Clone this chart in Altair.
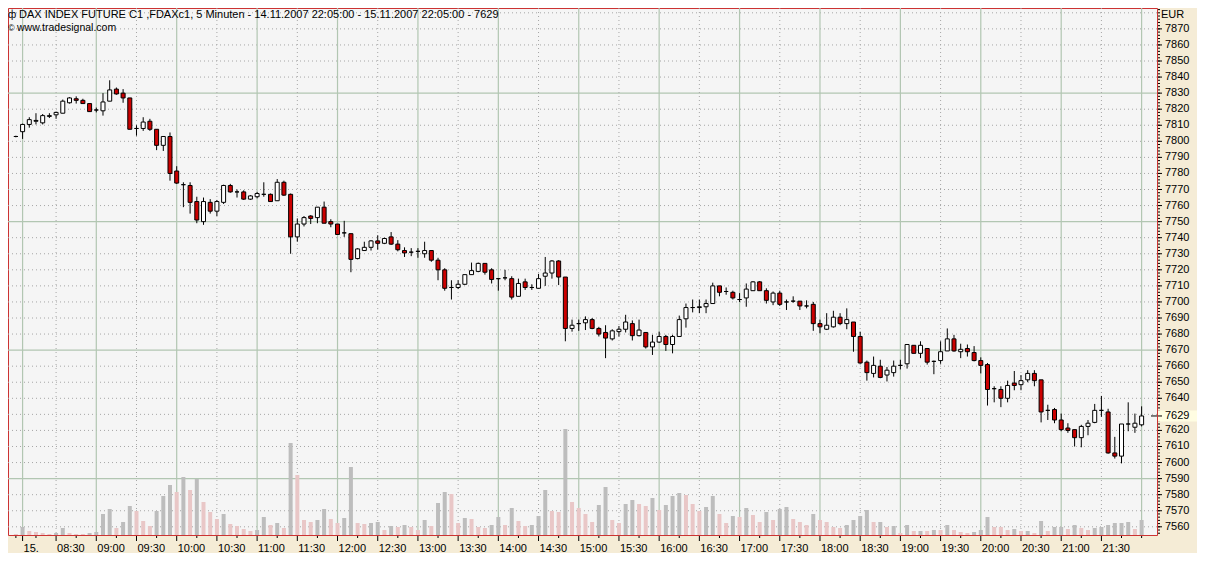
import altair as alt
import pandas as pd

# ---- candle data (5-minute bars, index 0 = last bar of 14.11, 1..168 = 15.11 08:05..22:00)
opens = [
    7803, 7806, 7810.5, 7812.5, 7811.5, 7815.5, 7816.5, 7817.5, 7824, 7826.5,
    7825.5, 7823.5, 7819.5, 7819, 7825, 7832.5, 7830, 7827, 7808, 7808,
    7812.5, 7807.5, 7797.5, 7803, 7781.5, 7773, 7772.5, 7762.5, 7750, 7762,
    7756.5, 7762, 7772.5, 7768.5, 7768.5, 7764, 7765.5, 7767, 7767, 7763,
    7774.5, 7767, 7740.5, 7748.5, 7753.5, 7752.5, 7759, 7750, 7748.5, 7743,
    7742.5, 7727, 7732, 7734, 7738, 7736.5, 7740.5, 7736, 7732, 7731,
    7731.5, 7730, 7732, 7726, 7720, 7709, 7709, 7711, 7717, 7719,
    7724, 7720, 7714.5, 7715, 7714.5, 7703.5, 7712.5, 7709, 7708.5, 7716,
    7718, 7725.5, 7715.5, 7683.5, 7686.5, 7687, 7689, 7683.5, 7681, 7677,
    7681.5, 7683, 7686.5, 7679, 7681, 7672, 7675, 7678.5, 7673.5, 7678.5,
    7689.5, 7696.5, 7696.5, 7697, 7699, 7710, 7706.5, 7706, 7701.5, 7702.5,
    7707, 7712.5, 7707, 7700, 7705.5, 7700, 7700.5, 7700.5, 7697.5, 7698.5,
    7686.5, 7683, 7684.5, 7690.5, 7686.5, 7687.5, 7678.5, 7662.5, 7655.5, 7660,
    7654.5, 7656, 7660.5, 7661.5, 7673, 7668, 7671, 7663, 7663.5, 7669.5,
    7677, 7669, 7671, 7668.5, 7663.5, 7661, 7646, 7645.5, 7640, 7649.5,
    7648.5, 7651.5, 7655.5, 7651.5, 7632.5, 7633, 7626.5, 7621.5, 7620.5, 7615.5,
    7622.5, 7625, 7632.5, 7631.5, 7606, 7604, 7624, 7622, 7623.5,
]
highs = [
    7803.5, 7811, 7815, 7817.5, 7817, 7817.5, 7818.5, 7826, 7827.5, 7828,
    7826.5, 7823.5, 7821, 7830, 7838, 7833.5, 7832.5, 7827, 7810, 7815,
    7814, 7807.5, 7803, 7805.5, 7784.5, 7774.5, 7774.5, 7765.5, 7765, 7764,
    7763.5, 7773, 7773.5, 7770, 7769.5, 7766.5, 7768.5, 7774.5, 7767.5, 7776.5,
    7775.5, 7767.5, 7752, 7753.5, 7754, 7759, 7762.5, 7751.5, 7748.5, 7750.5,
    7742.5, 7733.5, 7737.5, 7738.5, 7741.5, 7740, 7743.5, 7738.5, 7734, 7733.5,
    7733.5, 7737.5, 7732, 7727.5, 7721, 7713.5, 7713.5, 7717, 7724.5, 7724.5,
    7724, 7721, 7714.5, 7720, 7716, 7714.5, 7714.5, 7711, 7717.5, 7728,
    7726, 7726, 7715.5, 7689, 7689, 7691, 7690, 7684.5, 7685.5, 7683,
    7685, 7692, 7688.5, 7689, 7681, 7679.5, 7681.5, 7679.5, 7679.5, 7691.5,
    7699, 7701.5, 7701.5, 7701.5, 7712, 7710, 7709, 7707, 7705.5, 7711.5,
    7713, 7713, 7708.5, 7706.5, 7707, 7701.5, 7703.5, 7700.5, 7701, 7700,
    7689, 7693, 7694.5, 7693, 7696, 7687.5, 7681.5, 7663.5, 7666, 7664,
    7659.5, 7663.5, 7664, 7673.5, 7673, 7675.5, 7671, 7663.5, 7675.5, 7683.5,
    7679.5, 7674, 7673.5, 7672.5, 7665.5, 7662, 7647.5, 7647.5, 7651, 7657,
    7654.5, 7657.5, 7657.5, 7651.5, 7636, 7634, 7630.5, 7624.5, 7620.5, 7623.5,
    7626.5, 7636.5, 7641.5, 7633.5, 7616, 7624, 7637.5, 7630.5, 7635,
]
lows = [
    7802.5, 7801.5, 7808.5, 7810.5, 7810.5, 7814.5, 7814, 7817.5, 7823.5, 7823.5,
    7823.5, 7818.5, 7818, 7816, 7825, 7829, 7824, 7807.5, 7803.5, 7806.5,
    7806.5, 7794.5, 7794, 7775.5, 7773.5, 7759, 7755, 7749, 7748, 7755,
    7753.5, 7761, 7768, 7765, 7763.5, 7763.5, 7764.5, 7765.5, 7762.5, 7763,
    7766, 7730, 7737.5, 7747, 7748.5, 7749, 7749, 7746.5, 7742, 7740.5,
    7718.5, 7726.5, 7732, 7732, 7732.5, 7736, 7735.5, 7731.5, 7728, 7728.5,
    7727.5, 7727.5, 7725, 7713.5, 7707, 7701.5, 7708, 7710.5, 7717, 7718.5,
    7717, 7711.5, 7707, 7713.5, 7701.5, 7703.5, 7707.5, 7707.5, 7708.5, 7710,
    7714.5, 7710.5, 7675.5, 7681.5, 7682, 7682.5, 7683, 7678.5, 7665, 7676,
    7678.5, 7681, 7676, 7678.5, 7671, 7667, 7674.5, 7669.5, 7668, 7678.5,
    7684, 7693.5, 7693, 7693, 7699, 7703.5, 7704.5, 7701.5, 7700, 7697,
    7707, 7707, 7699, 7698, 7697.5, 7695, 7699.5, 7695, 7696, 7682,
    7680.5, 7682.5, 7684, 7685.5, 7683, 7669, 7661.5, 7651, 7653, 7652.5,
    7650.5, 7653.5, 7658, 7658.5, 7668, 7665, 7661, 7655, 7661.5, 7669.5,
    7669, 7665, 7666, 7663, 7655.5, 7635.5, 7637.5, 7634.5, 7637.5, 7645,
    7645, 7650, 7647.5, 7625, 7626.5, 7624.5, 7619.5, 7618.5, 7610, 7609.5,
    7617, 7624.5, 7628.5, 7605.5, 7602.5, 7599.5, 7619.5, 7618.5, 7622.5,
]
closes = [
    7803, 7810.5, 7813.5, 7813, 7816, 7816, 7818, 7825, 7827, 7825.5,
    7823.5, 7818.5, 7819.5, 7824.5, 7832, 7829.5, 7827, 7807.5, 7808, 7812,
    7807.5, 7797.5, 7803, 7780, 7774, 7773, 7762, 7751, 7762.5, 7756.5,
    7762.5, 7772.5, 7768.5, 7768.5, 7764, 7766, 7767.5, 7767, 7762.5, 7774.5,
    7766.5, 7740.5, 7748.5, 7752.5, 7752, 7759, 7749, 7748.5, 7742, 7743,
    7726.5, 7733, 7734, 7738, 7736.5, 7739.5, 7736, 7732.5, 7730.5, 7731,
    7731.5, 7732, 7726, 7720, 7708.5, 7709, 7711, 7717, 7719.5, 7724,
    7718.5, 7714, 7714.5, 7715, 7703, 7711.5, 7709, 7709, 7714.5, 7718,
    7725.5, 7715.5, 7683.5, 7685.5, 7686.5, 7689, 7683.5, 7680, 7677.5, 7682,
    7683, 7687.5, 7679, 7682.5, 7672, 7675, 7678.5, 7673.5, 7678.5, 7689,
    7696.5, 7696.5, 7697, 7699, 7710, 7706, 7706.5, 7702.5, 7701.5, 7708,
    7712.5, 7707, 7701, 7705.5, 7698.5, 7700, 7700.5, 7697.5, 7697.5, 7686.5,
    7684.5, 7685.5, 7690.5, 7686.5, 7689, 7678.5, 7662, 7656, 7660.5, 7653,
    7657.5, 7660, 7660.5, 7673.5, 7668, 7673, 7662.5, 7663, 7669, 7677,
    7669.5, 7670.5, 7669, 7663.5, 7660.5, 7645.5, 7646, 7640, 7648, 7648,
    7651, 7655.5, 7651, 7631.5, 7632.5, 7626.5, 7620.5, 7620, 7615.5, 7622.5,
    7624.5, 7632.5, 7632.5, 7606, 7604, 7624, 7624, 7624.5, 7629,
]
# volume (hundreds of contracts) and its colour class: g = grey, p = pink
volumes = [
    1, 8, 4, 3, 2, 1, 2, 7, 2, 1,
    1, 2, 3, 21, 26, 7, 13, 29, 24, 14,
    9, 24, 39, 50, 43, 58, 45, 56, 33, 23,
    16, 21, 11, 9, 6, 4, 5, 18, 10, 12,
    7, 92, 60, 15, 13, 15, 26, 16, 12, 17,
    68, 12, 11, 12, 13, 5, 9, 8, 10, 8,
    5, 15, 9, 32, 43, 41, 12, 17, 16, 8,
    7, 10, 18, 10, 27, 14, 9, 10, 19, 45,
    24, 23, 106, 33, 27, 21, 13, 30, 48, 15,
    12, 31, 35, 31, 29, 37, 25, 30, 39, 42,
    40, 31, 24, 28, 39, 21, 12, 19, 18, 27,
    20, 13, 23, 15, 26, 28, 16, 13, 10, 21,
    15, 13, 8, 7, 10, 15, 19, 25, 13, 13,
    8, 9, 2, 10, 4, 4, 4, 5, 5, 10,
    5, 3, 2, 3, 5, 18, 8, 8, 5, 6,
    4, 4, 2, 14, 4, 8, 8, 6, 10, 7,
    5, 7, 8, 10, 12, 12, 13, 6, 15,
]
vol_colors = list(
    "pgppppggpp" "pggggpggpp" "pgggpgpgpp" "pgppppggpg" "pgpppggppg"
    "gppggpgpgp" "pgpggppgpp" "pggpgppggg" "ppgppppggp" "pggppgpggg"
    "pppggppgpg" "ppgpggpppg" "ppppggggpg" "pgpgpgpgpg" "pppgggpppg"
    "pgpgpggpgp" "pggggggpg"
)

# time axis
tick_idx = [1, 6, 12, 18, 24, 30, 36, 42, 48, 54, 60, 66, 72, 78, 84, 90, 96,
            102, 108, 114, 120, 126, 132, 138, 144, 150, 156, 162]
tick_labels = ["15.", "08:30", "09:00", "09:30", "10:00", "10:30", "11:00", "11:30",
               "12:00", "12:30", "13:00", "13:30", "14:00", "14:30", "15:00", "15:30",
               "16:00", "16:30", "17:00", "17:30", "18:00", "18:30", "19:00", "19:30",
               "20:00", "20:30", "21:00", "21:30"]
hour_idx = [1, 12, 24, 36, 48, 60, 72, 84, 96, 108, 120, 132, 144, 156, 168]
halfhour_idx = [6, 18, 30, 42, 54, 66, 78, 90, 102, 114, 126, 138, 150, 162]
quarter_idx = [0, 3, 9, 15, 21, 27, 33, 39, 45, 51, 57, 63, 69, 75, 81, 87, 93, 99,
               105, 111, 117, 123, 129, 135, 141, 147, 153, 159, 165, 168]

# price axis
price_labels = [7560, 7570, 7580, 7590, 7600, 7610, 7620, 7640, 7650, 7660, 7670,
                7680, 7690, 7700, 7710, 7720, 7730, 7740, 7750, 7760, 7770, 7780,
                7790, 7800, 7810, 7820, 7830, 7840, 7850, 7860, 7870]
dotted_prices = [7560, 7570, 7580, 7600, 7610, 7620, 7630, 7640, 7650, 7660, 7680,
                 7690, 7700, 7710, 7720, 7730, 7740, 7760, 7770, 7780, 7790, 7800,
                 7810, 7820, 7840, 7850, 7860, 7870, 7880]
solid_prices = [7590, 7670, 7750, 7830]
minor_prices = list(range(7556, 7884, 2))
last_price = [7629]

title_text = "DAX INDEX FUTURE C1 ,FDAXc1, 5 Minuten - 14.11.2007 22:05:00 - 15.11.2007 22:05:00 - 7629"

W, H = 1149, 527
FONT = "Liberation Sans"

df = pd.DataFrame({
    "i": list(range(len(opens))), "open": opens, "high": highs, "low": lows,
    "close": closes, "vol": volumes, "vcol": vol_colors,
})

xs = alt.Scale(domain=[-0.43, 169.55], nice=False, zero=False)
ys = alt.Scale(domain=[7554.9, 7883], nice=False, zero=False)
vs = alt.Scale(domain=[0, H], nice=False)

# ---------------- grid
g_dot_h = alt.Chart(pd.DataFrame({"p": dotted_prices})).mark_rule(
    color="#a6a6a6", strokeDash=[1, 3], strokeWidth=1).encode(
    y=alt.Y("p:Q", scale=ys, axis=None), x=alt.value(0), x2=alt.value(W))
g_sol_h = alt.Chart(pd.DataFrame({"p": solid_prices})).mark_rule(
    color="#b2c6b2", strokeWidth=1.2).encode(
    y=alt.Y("p:Q", scale=ys, axis=None), x=alt.value(0), x2=alt.value(W))
g_dot_v = alt.Chart(pd.DataFrame({"t": halfhour_idx})).mark_rule(
    color="#a6a6a6", strokeDash=[1, 3], strokeWidth=1).encode(
    x=alt.X("t:Q", scale=xs, axis=None), y=alt.value(0), y2=alt.value(H))
g_sol_v = alt.Chart(pd.DataFrame({"t": hour_idx})).mark_rule(
    color="#b2c6b2", strokeWidth=1.2).encode(
    x=alt.X("t:Q", scale=xs, axis=None), y=alt.value(0), y2=alt.value(H))
grid = alt.layer(g_dot_h, g_sol_h, g_dot_v, g_sol_v)

# ---------------- volume
vol = alt.Chart(df).mark_bar(size=4).encode(
    x=alt.X("i:Q", scale=xs, axis=None),
    y=alt.Y("vol:Q", scale=vs, axis=None),
    color=alt.Color("vcol:N", scale=alt.Scale(domain=["g", "p"], range=["#bdbdbd", "#e9c7c7"]), legend=None),
)

# ---------------- candles
wicks = alt.Chart(df).mark_rule(color="black", strokeWidth=1).encode(
    x=alt.X("i:Q", scale=xs, axis=None),
    y=alt.Y("low:Q", scale=ys, axis=None),
    y2="high:Q",
)
bodies = alt.Chart(df).mark_bar(size=4, stroke="black", strokeWidth=1).encode(
    x=alt.X("i:Q", scale=xs, axis=None),
    y=alt.Y("open:Q", scale=ys, axis=None),
    y2="close:Q",
    fill=alt.condition("datum.close < datum.open", alt.value("#cc0000"), alt.value("#ffffff")),
)

# ---------------- axes drawn as marks
minor_y = alt.Chart(pd.DataFrame({"p": minor_prices})).mark_rule(color="black").encode(
    y=alt.Y("p:Q", scale=ys, axis=None), x=alt.value(W + 1), x2=alt.value(W + 3))
major_y = alt.Chart(pd.DataFrame({"p": price_labels})).mark_rule(color="black").encode(
    y=alt.Y("p:Q", scale=ys, axis=None), x=alt.value(W + 1), x2=alt.value(W + 5))
price_text = alt.Chart(pd.DataFrame({"p": price_labels})).mark_text(
    align="left", baseline="middle", font=FONT, fontSize=11, color="black").encode(
    y=alt.Y("p:Q", scale=ys, axis=None), x=alt.value(W + 8), text=alt.Text("p:Q", format="d"))

minor_x = alt.Chart(pd.DataFrame({"q": quarter_idx})).mark_rule(color="black").encode(
    x=alt.X("q:Q", scale=xs, axis=None), y=alt.value(H + 1), y2=alt.value(H + 3))
major_x = alt.Chart(pd.DataFrame({"t": tick_idx})).mark_rule(color="black").encode(
    x=alt.X("t:Q", scale=xs, axis=None), y=alt.value(H + 1), y2=alt.value(H + 6))
time_text = alt.Chart(pd.DataFrame({"t": tick_idx, "lab": tick_labels})).mark_text(
    align="left", baseline="alphabetic", font=FONT, fontSize=11, color="black", dx=1).encode(
    x=alt.X("t:Q", scale=xs, axis=None), y=alt.value(H + 17), text="lab:N")

lp = pd.DataFrame({"p": last_price, "top": [last_price[0] + 3.4], "bot": [last_price[0] - 3.4]})
lp_dash = alt.Chart(lp).mark_rule(color="black").encode(
    y=alt.Y("p:Q", scale=ys, axis=None), x=alt.value(W - 6), x2=alt.value(W))
lp_box = alt.Chart(lp).mark_rect(color="#fffde2").encode(
    y=alt.Y("top:Q", scale=ys, axis=None), y2="bot:Q", x=alt.value(W + 1), x2=alt.value(W + 40))
lp_tick = alt.Chart(lp).mark_rule(color="black").encode(
    y=alt.Y("p:Q", scale=ys, axis=None), x=alt.value(W + 1), x2=alt.value(W + 5))
lp_text = alt.Chart(lp).mark_text(align="left", baseline="middle", font=FONT, fontSize=11,
                                   color="black").encode(
    y=alt.Y("p:Q", scale=ys, axis=None), x=alt.value(W + 8), text=alt.Text("p:Q", format="d"))

texts = pd.DataFrame({"t": [title_text]})
t_icon = alt.Chart(texts).mark_text(text="ф", align="left", baseline="alphabetic", font=FONT,
                                    fontSize=10, color="black").encode(x=alt.value(0), y=alt.value(9.5))
t_title = alt.Chart(texts).mark_text(align="left", baseline="alphabetic", font=FONT,
                                     fontSize=11, color="black").encode(
    x=alt.value(11), y=alt.value(9.5), text="t:N")
t_copy = alt.Chart(texts).mark_text(text="©", align="left", baseline="alphabetic", font=FONT,
                                    fontSize=9, color="black").encode(x=alt.value(0), y=alt.value(23))
t_www = alt.Chart(texts).mark_text(text="www.tradesignal.com", align="left", baseline="alphabetic",
                                   font=FONT, fontSize=10.5, color="black").encode(
    x=alt.value(9), y=alt.value(23))
t_eur = alt.Chart(texts).mark_text(text="EUR", align="left", baseline="alphabetic", font=FONT,
                                   fontSize=11, color="black").encode(x=alt.value(W + 4), y=alt.value(10))

candles = alt.layer(wicks, bodies, minor_y, major_y, price_text, minor_x, major_x, time_text,
                    lp_dash, lp_box, lp_tick, lp_text, t_icon, t_title, t_copy, t_www, t_eur)

chart = alt.layer(grid, vol, candles).resolve_scale(y="independent").properties(
    width=W, height=H,
    background="#f5ecd6",
    padding={"left": 0, "top": 0, "right": 40, "bottom": 18},
    autosize=alt.AutoSizeParams(type="none"),
).configure_view(stroke="#cc3333", strokeWidth=1, fill="#f5f5f5")

chart.save("out.html", embed_options={"renderer": "svg", "actions": False})
